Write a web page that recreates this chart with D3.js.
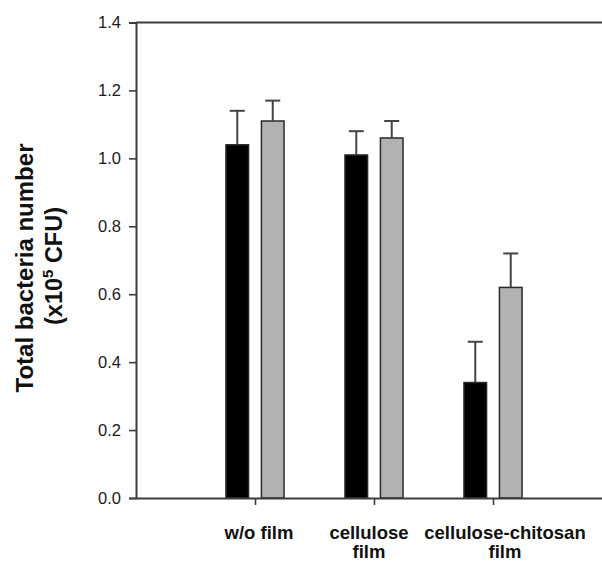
<!DOCTYPE html>
<html>
<head>
<meta charset="utf-8">
<script src="https://d3js.org/d3.v7.min.js"></script>
<style>
  body { margin: 0; background: #fff; }
  svg { display: block; font-family: "Liberation Sans", Arial, sans-serif; }
</style>
</head>
<body>
<svg id="chart" width="602" height="563"></svg>
<script>
// data
var categories = ["w/o film", "cellulose\nfilm", "cellulose-chitosan\nfilm"];
var blackValues = [1.04, 1.01, 0.34];
var blackErrors = [0.10, 0.07, 0.12];
var grayValues  = [1.11, 1.06, 0.62];
var grayErrors  = [0.06, 0.05, 0.10];
var yTicks = [0.0, 0.2, 0.4, 0.6, 0.8, 1.0, 1.2, 1.4];

var svg = d3.select("#chart");
var axisColor = "#3c3c3c";

// x runs 0..4 with categories sitting at 1, 2, 3 (sigmaplot style)
var x = d3.scaleLinear().domain([0, 4]).range([136, 612]);
var y = d3.scaleLinear().domain([0, 1.4]).range([498, 22.5]);

var barW = 0.19, barOff = 0.149;

var series = [
  {values: blackValues, errors: blackErrors, fill: "#000000", shift: -barOff},
  {values: grayValues,  errors: grayErrors,  fill: "#b2b2b2", shift:  barOff}
];

// bars
series.forEach(function(s) {
  var g = svg.append("g");
  g.selectAll("rect")
    .data(s.values)
    .enter().append("rect")
    .attr("x", function(d, i) { return x(i + 1 + s.shift - barW / 2); })
    .attr("y", function(d) { return y(d); })
    .attr("width", x(barW) - x(0))
    .attr("height", function(d) { return y(0) - y(d); })
    .attr("fill", s.fill)
    .attr("stroke", "#2a2a2a")
    .attr("stroke-width", 1.5);

  // error bars, upper half only
  var e = g.selectAll(".err")
    .data(s.values)
    .enter().append("g").attr("class", "err")
    .attr("stroke", "#444")
    .attr("stroke-width", 2);
  e.append("line")
    .attr("x1", function(d, i) { return x(i + 1 + s.shift); })
    .attr("x2", function(d, i) { return x(i + 1 + s.shift); })
    .attr("y1", function(d) { return y(d); })
    .attr("y2", function(d, i) { return y(d + s.errors[i]); });
  e.append("line")
    .attr("x1", function(d, i) { return x(i + 1 + s.shift) - 7.5; })
    .attr("x2", function(d, i) { return x(i + 1 + s.shift) + 7.5; })
    .attr("y1", function(d, i) { return y(d + s.errors[i]); })
    .attr("y2", function(d, i) { return y(d + s.errors[i]); });
});

// y axis
var yAxis = svg.append("g")
  .attr("transform", "translate(" + x(0) + ",0)")
  .call(d3.axisLeft(y).tickValues(yTicks).tickFormat(d3.format(".1f")).tickSize(7).tickPadding(8));
yAxis.select(".domain").attr("stroke", axisColor).attr("stroke-width", 2);
yAxis.selectAll(".tick line").attr("stroke", axisColor).attr("stroke-width", 1.6);
yAxis.selectAll(".tick text")
  .attr("font-size", 16.5)
  .attr("fill", "#1a1a1a")
  .attr("font-family", "Liberation Sans, Arial, sans-serif");

// x axis
var xAxis = svg.append("g")
  .attr("transform", "translate(0," + y(0) + ")")
  .call(d3.axisBottom(x).tickValues([1, 2, 3]).tickFormat("").tickSize(7).tickSizeOuter(0));
xAxis.select(".domain").attr("stroke", axisColor).attr("stroke-width", 2);
xAxis.selectAll(".tick line").attr("stroke", axisColor).attr("stroke-width", 1.6);

// top frame line
svg.append("line")
  .attr("x1", x(0)).attr("x2", x(4))
  .attr("y1", y(1.4)).attr("y2", y(1.4))
  .attr("stroke", axisColor).attr("stroke-width", 2);

// category labels (slightly off-centre as in the figure)
var labelShift = [4, -5, 12];
categories.forEach(function(c, i) {
  var t = svg.append("text")
    .attr("text-anchor", "middle")
    .attr("font-size", 18.5)
    .attr("font-weight", "bold")
    .attr("fill", "#111");
  c.split("\n").forEach(function(line, j) {
    t.append("tspan")
      .attr("x", x(i + 1) + labelShift[i])
      .attr("y", 539 + j * 19)
      .text(line);
  });
});

// y axis title
svg.append("text")
  .attr("transform", "translate(33,268) rotate(-90)")
  .attr("text-anchor", "middle")
  .attr("font-size", 24)
  .attr("font-weight", "bold")
  .attr("fill", "#111")
  .text("Total bacteria number");

var t2 = svg.append("text")
  .attr("transform", "translate(62,266) rotate(-90)")
  .attr("text-anchor", "middle")
  .attr("font-size", 23.5)
  .attr("font-weight", "bold")
  .attr("fill", "#111");
t2.append("tspan").text("(x10");
t2.append("tspan").attr("font-size", 15).attr("dy", -9).text("5");
t2.append("tspan").attr("dy", 9).text(" CFU)");
</script>
</body>
</html>
